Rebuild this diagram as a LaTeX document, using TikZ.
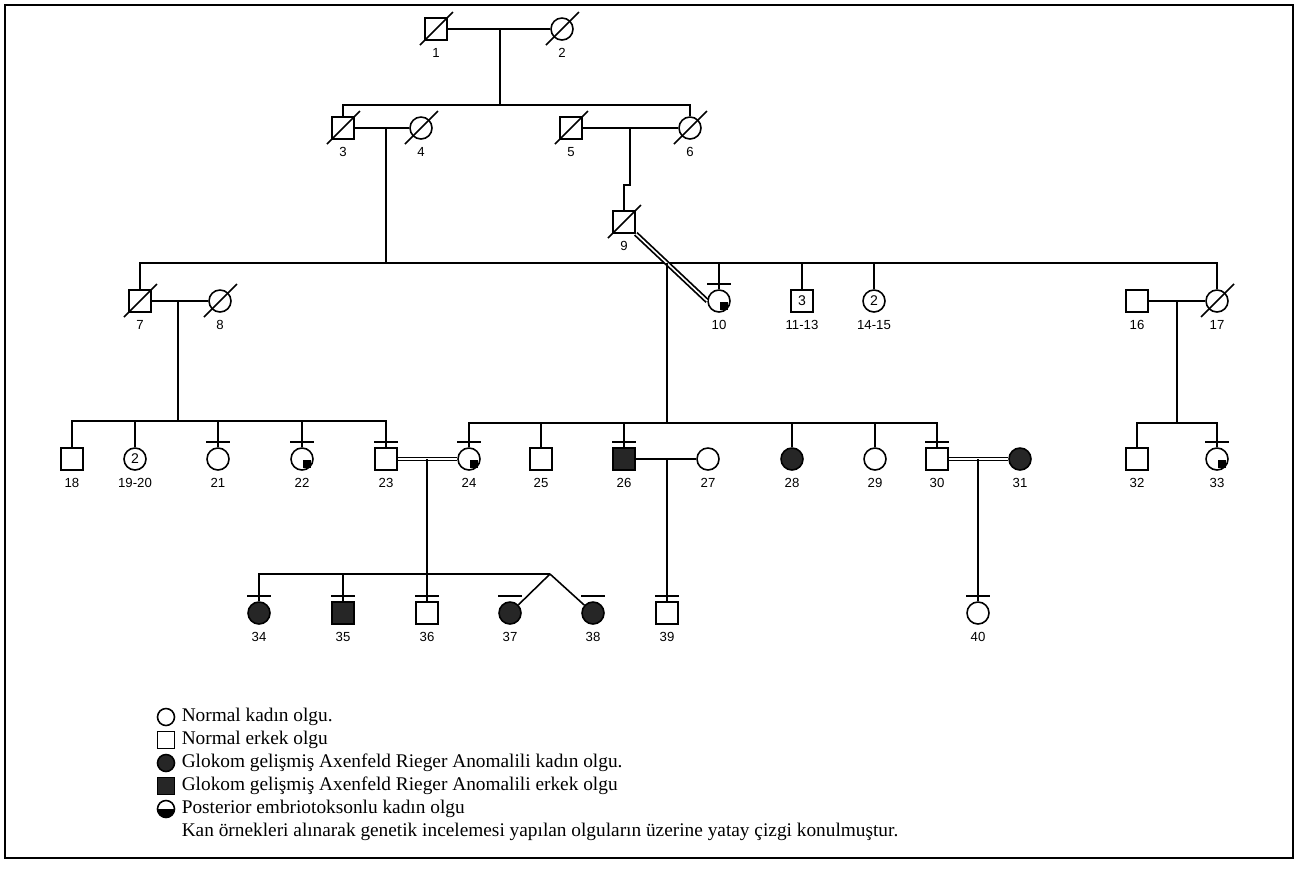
\documentclass[tikz,border=0pt]{standalone}
\usepackage{fontspec}
\setmainfont{Liberation Serif}
\newfontfamily\lab{Liberation Sans}
\usetikzlibrary{calc}

\newcommand{\deceased}[1]{\draw ([shift={(-16,16)}]#1.center) -- ([shift={(17,-17)}]#1.center);}
\newcommand{\sampled}[1]{\draw ([shift={(-12,-5)}]#1.north) -- ([shift={(12,-5)}]#1.north);}
\newcommand{\embryo}[1]{\fill ([shift={(0.5,0.5)}]#1.center) rectangle ([shift={(8.5,8.5)}]#1.center);}

\begin{document}
\begin{tikzpicture}[x=0.02cm, y=-0.02cm, line width=0.9pt,
	male/.style={ rectangle, draw, line width=0.9pt, inner sep=0pt, minimum size=0.44cm, font=\lab\fontsize{8}{8}\selectfont },
	female/.style={ circle, draw, line width=0.9pt, inner sep=0pt, minimum size=0.44cm, font=\lab\fontsize{8}{8}\selectfont },
	malea/.style={ male, fill=black!85 },
	femalea/.style={ female, fill=black!85 },
	every label/.style={ font=\lab\fontsize{7.5}{8}\selectfont, inner sep=0pt },
	label distance=0.14cm,
	dbl/.style={ double, double distance=1.1pt, line width=0.75pt },
	legend/.style={ anchor=west, inner sep=0pt, font=\fontsize{11}{13}\selectfont }
]
\useasboundingbox (0,0) rectangle (1299,877);
\draw[line width=1.1pt] (5,5) rectangle (1293,858);

% generation I
\node[male, label={below:1}] (v1) at (436,29) {};
\node[female, label={below:2}] (v2) at (562,29) {};
\draw (v1) -- (v2);
\coordinate (m12) at (500,29);
\coordinate (s12) at (500,105);

% generation II
\node[male, label={below:3}] (v3) at (343,128) {};
\node[female, label={below:4}] (v4) at (421,128) {};
\node[male, label={below:5}] (v5) at (571,128) {};
\node[female, label={below:6}] (v6) at (690,128) {};
\draw (m12) -- (s12);
\draw (v3) |- (s12) -| (v6);
\draw (v3) -- (v4);
\draw (v5) -- (v6);
\coordinate (m34) at (386,128);
\coordinate (s34) at (386,263);
\coordinate (m56) at (630,128);
\node[male, label={below:9}] (v9) at (624,222) {};
\draw (m56) -- ++(0,57) -| (v9);

% generation III
\node[male, label={below:7}] (v7) at (140,301) {};
\node[female, label={below:8}] (v8) at (220,301) {};
\node[female, label={below:10}] (v10) at (719,301) {};
\node[male, label={below:11-13}] (v11) at (802,301) {3};
\node[female, label={below:14-15}] (v14) at (874,301) {2};
\node[male, label={below:16}] (v16) at (1137,301) {};
\node[female, label={below:17}] (v17) at (1217,301) {};
\draw (m34) -- (s34);
\draw (v7) |- (s34) -| (v17);
\foreach \n in {v10,v11,v14}
	\draw (\n |- s34) -- (\n);
\draw (v7) -- (v8);
\draw (v16) -- (v17);
\draw[dbl, line width=1pt, double distance=0.9pt] (v9.south east) -- (v10.west);
\coordinate (c910) at ($(v9.south east)!0.44!(v10.west)$);

% generation IV
\coordinate (m78) at (178,301);
\coordinate (s78) at (178,421);
\node[male, label={below:18}] (v18) at (72,459) {};
\node[female, label={below:19-20}] (v19) at (135,459) {2};
\node[female, label={below:21}] (v21) at (218,459) {};
\node[female, label={below:22}] (v22) at (302,459) {};
\node[male, label={below:23}] (v23) at (386,459) {};
\draw (m78) -- (s78);
\draw (v18) |- (s78) -| (v23);
\foreach \n in {v19,v21,v22}
	\draw (\n |- s78) -- (\n);

\coordinate (s2430) at (672,423);
\node[female, label={below:24}] (v24) at (469,459) {};
\node[male, label={below:25}] (v25) at (541,459) {};
\node[malea, label={below:26}] (v26) at (624,459) {};
\node[female, label={below:27}] (v27) at (708,459) {};
\node[femalea, label={below:28}] (v28) at (792,459) {};
\node[female, label={below:29}] (v29) at (875,459) {};
\node[male, label={below:30}] (v30) at (937,459) {};
\node[femalea, label={below:31}] (v31) at (1020,459) {};
\draw (c910) -- (c910 |- s2430);
\draw (v24) |- (s2430) -| (v30);
\foreach \n in {v25,v26,v28,v29}
	\draw (\n |- s2430) -- (\n);

\coordinate (m1617) at (1177,301);
\coordinate (s1617) at (1177,423);
\node[male, label={below:32}] (v32) at (1137,459) {};
\node[female, label={below:33}] (v33) at (1217,459) {};
\draw (m1617) -- (s1617);
\draw (v32) |- (s1617) -| (v33);

% generation V
\draw[dbl] (v23) -- (v24);
\draw (v26) -- (v27);
\draw[dbl] (v30) -- (v31);
\coordinate (m2324) at (427,459);
\coordinate (s2324) at (427,574);
\coordinate (tw) at (550,574);
\node[femalea, label={below:34}] (v34) at (259,613) {};
\node[malea, label={below:35}] (v35) at (343,613) {};
\node[male, label={below:36}] (v36) at (427,613) {};
\node[femalea, label={below:37}] (v37) at (510,613) {};
\node[femalea, label={below:38}] (v38) at (593,613) {};
\draw (m2324) -- (v36);
\draw (v34) |- (tw);
\draw (v35 |- s2324) -- (v35);
\draw (tw) -- (v37);
\draw (tw) -- (v38);

\coordinate (m2627) at (667,459);
\node[male, label={below:39}] (v39) at (667,613) {};
\draw (m2627) -- (v39);
\coordinate (m3031) at (978,459);
\node[female, label={below:40}] (v40) at (978,613) {};
\draw (m3031) -- (v40);

% marks
\foreach \n in {v1,v2,v3,v4,v5,v6,v7,v8,v9,v17}
	{\deceased{\n}}
\foreach \n in {v10,v21,v22,v23,v24,v26,v30,v33,v34,v35,v36,v37,v38,v39,v40}
	{\sampled{\n}}
\foreach \n in {v10,v22,v24,v33}
	{\embryo{\n}}

% legend
\node[female, minimum size=0.34cm] (l1) at (166,717) {};
\node[male, minimum size=0.34cm] (l2) at (166,740) {};
\node[femalea, minimum size=0.34cm] (l3) at (166,763) {};
\node[malea, minimum size=0.34cm] (l4) at (166,786) {};
\node[female, minimum size=0.34cm, path picture={\fill (path picture bounding box.west) rectangle (path picture bounding box.south east);}] (l5) at (166,809) {};
\node[legend] (t1) at (181,717) {Normal kadın olgu.};
\node[legend] (t2) at (181,740) {Normal erkek olgu};
\node[legend] (t3) at (181,763) {Glokom gelişmiş Axenfeld Rieger Anomalili kadın olgu.};
\node[legend] (t4) at (181,786) {Glokom gelişmiş Axenfeld Rieger Anomalili erkek olgu};
\node[legend] (t5) at (181,809) {Posterior embriotoksonlu kadın olgu};
\node[legend] (t6) at (181,832) {Kan örnekleri alınarak genetik incelemesi yapılan olguların üzerine yatay çizgi konulmuştur.};

\end{tikzpicture}
\end{document}
